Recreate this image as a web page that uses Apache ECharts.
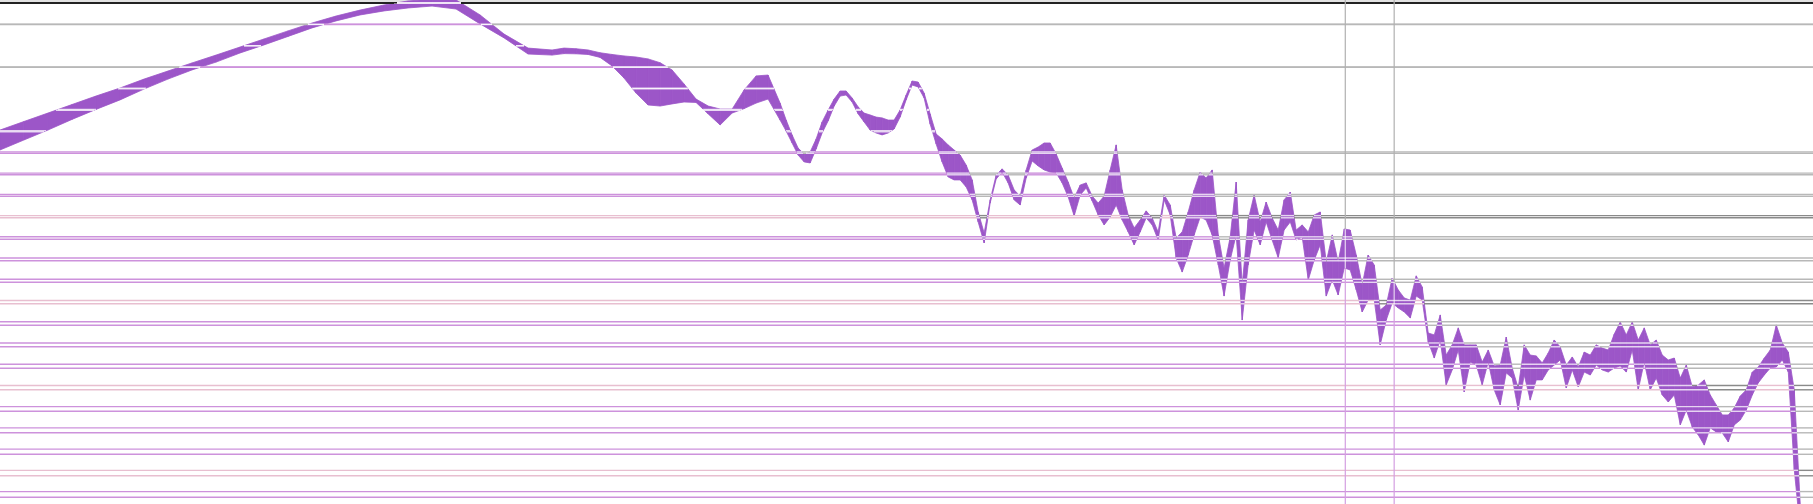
<!DOCTYPE html>
<html>
<head>
<meta charset="utf-8">
<title>Frequency response</title>
<script src="https://cdn.jsdelivr.net/npm/echarts@6.0.0/dist/echarts.min.js"></script>
<style>
  html, body { margin: 0; padding: 0; background: #fff; }
  #chart { width: 1813px; height: 504px; }
</style>
</head>
<body>
<div id="chart"></div>
<script>
// sample frequencies (Hz)
const freqs = [10, 10.96, 12.02, 13.18, 14.45, 15.85, 17.38, 19.05, 20.89, 22.91, 25.12, 27.54, 30.2, 33.11, 36.31, 39.81, 43.65, 47.86, 52.48, 57.54, 63.1, 69.18, 75.86, 83.18,
  87.1, 91.2, 95.5, 100, 104.7, 109.6, 114.8, 120.2, 125.9, 131.8, 138, 144.5, 151.4, 158.5, 166, 173.8, 182, 190.5, 199.5,
  204.2, 208.9, 213.8, 218.8, 223.9, 229.1, 234.4, 239.9, 245.5, 251.2, 257, 263, 269.2, 275.4, 281.8, 288.4, 295.1, 302, 309, 316.2,
  323.6, 331.1, 338.8, 346.7, 354.8, 363.1, 371.5, 380.2, 389, 398.1, 407.4, 416.9, 426.6, 436.5, 446.7, 457.1, 467.7, 478.6, 489.8, 501.2,
  512.9, 524.8, 537, 549.5, 562.3, 575.4, 588.8, 602.6, 616.6, 631, 645.7, 660.7, 676.1, 691.8, 707.9, 724.4, 741.3, 758.6, 776.2, 794.3,
  812.8, 831.8, 851.1, 871, 891.3, 912, 933.3, 955, 977.2,
  1000, 1023, 1047, 1072, 1096, 1122, 1148, 1175, 1202, 1230, 1259, 1288, 1318, 1349, 1380, 1413, 1445, 1479, 1514, 1549,
  1585, 1622, 1660, 1698, 1738, 1778, 1820, 1862, 1905, 1950, 1995, 2042, 2089, 2138, 2188, 2239, 2291, 2344, 2399, 2455,
  2512, 2570, 2630, 2692, 2754, 2818, 2884, 2951, 3020, 3090, 3162, 3236, 3311, 3388, 3467, 3548, 3631, 3715, 3802, 3890,
  3981, 4074, 4169, 4266, 4365, 4467, 4571, 4677, 4786, 4898, 5012, 5129, 5248, 5370, 5495, 5623, 5754, 5888, 6026, 6166,
  6310, 6457, 6607, 6761, 6918, 7079, 7244, 7413, 7586, 7762, 7943, 8128, 8318, 8511, 8710, 8913, 9120, 9333, 9550, 9772, 10000];

// upper edge of the response band (dB)
const upper = [-5.97, -5.57, -5.17, -4.77, -4.37, -3.99, -3.57, -3.19, -2.81, -2.44, -2.06, -1.68, -1.30, -0.93, -0.60, -0.32, -0.08, 0.11, 0.20, 0.16, -0.55, -1.45, -2.11, -2.20,
  -2.11, -2.14, -2.20, -2.33, -2.41, -2.48, -2.53, -2.62, -2.80, -3.14, -3.80, -4.51, -4.84, -4.98, -4.98, -4.08, -3.42, -3.38, -4.70,
  -5.50, -6.20, -6.82, -7.10, -7.00, -6.39, -5.59, -5.03, -4.51, -4.13,
  -4.13, -4.46, -4.88, -5.17, -5.26, -5.36, -5.40, -5.50, -5.50, -5.03,
  -4.32, -3.66, -3.71, -4.23, -5.21, -6.16, -6.39, -6.67, -6.91, -7.15,
  -7.62, -8.32, -9.83, -10.82, -9.26, -8.09, -7.80, -8.09, -8.79, -9.08,
  -7.85, -6.91, -6.77, -6.58, -6.58, -7.10, -7.76, -8.42, -9.17, -8.56,
  -8.46, -9.08, -9.41, -9.08, -7.85, -6.67, -8.79, -9.97, -10.58, -10.21,
  -9.78, -10.11, -10.77, -9.03, -9.50, -11.05, -10.77, -9.83, -8.79,
  -7.95, -8.23, -7.85, -10.91, -12.47, -11.01, -8.42, -13.27, -10.21, -9.03,
  -10.30, -9.36, -10.11, -10.68, -9.26, -8.89, -10.68, -10.44, -10.77, -9.97,
  -9.83, -12.19, -10.91, -12.19, -10.63, -10.68, -11.86, -13.27, -11.86, -12.33,
  -14.45, -14.21, -12.94, -13.50, -13.88, -13.98, -12.84, -13.36, -15.53, -15.62,
  -14.68, -16.57, -16.09, -15.29, -16.09, -16.09, -16.09, -16.90, -16.33, -17.08,
  -17.04, -15.72, -17.18, -18.12, -16.09, -16.57, -16.61, -16.94, -16.47, -15.86,
  -16.19, -17.04, -16.66, -17.13, -16.43, -16.57, -16.09, -16.24, -16.33, -15.58,
  -15.01, -15.62, -15.01, -15.86, -15.29, -16.09, -15.86, -16.57, -16.80, -16.71,
  -17.65, -17.04, -18.07, -17.98, -17.74, -18.45, -18.92, -19.39, -19.39, -19.06,
  -18.50, -18.21, -17.37, -17.13, -16.71, -16.33, -15.15, -16.00, -16.43, -18.21,
  -23.63];

// lower edge of the response band (dB)
const lower = [-6.91, -6.44, -5.97, -5.47, -5.00, -4.55, -4.04, -3.57, -3.14, -2.77, -2.34, -1.96, -1.56, -1.16, -0.83, -0.55, -0.36, -0.22, -0.13, -0.27, -0.97, -1.63, -2.39, -2.44,
  -2.37, -2.38, -2.41, -2.55, -2.95, -3.52, -4.23, -4.79, -4.84, -4.74, -4.65, -4.67, -5.21, -5.73, -5.17, -4.96, -4.70, -4.51, -5.50,
  -6.02, -6.58, -7.15, -7.47, -7.52, -6.86, -6.11, -5.54, -4.84, -4.37,
  -4.32, -4.65, -5.21, -5.59, -5.97, -6.11, -6.20, -6.11, -5.92, -5.36,
  -4.55, -3.85, -3.94, -4.46, -5.69, -6.63, -7.47, -8.18, -8.32, -8.32,
  -8.65, -9.26, -10.30, -11.29, -9.41, -8.28, -7.95, -8.46, -9.26, -9.50,
  -8.23, -7.43, -7.66, -7.85, -7.95, -7.99, -8.46, -9.12, -10.02, -9.03,
  -8.70, -9.31, -9.97, -10.44, -10.07, -9.50, -10.21, -10.77, -11.38, -10.77,
  -10.11, -10.44, -11.15, -9.26, -9.97, -12.00, -12.66, -11.86, -10.91,
  -10.07, -10.21, -10.91, -12.33, -13.79, -12.09, -10.91, -14.92, -12.33, -10.68,
  -11.38, -10.30, -11.15, -11.99, -10.68, -10.30, -11.15, -11.01, -13.03, -12.09,
  -11.38, -13.79, -13.03, -13.74, -12.47, -12.56, -13.50, -14.54, -13.98, -13.98,
  -16.09, -14.92, -14.12, -14.35, -14.54, -14.82, -13.79, -13.98, -15.95, -16.71,
  -15.86, -17.98, -17.27, -16.33, -18.31, -16.90, -17.04, -17.98, -16.90, -18.21,
  -18.92, -17.41, -17.65, -19.16, -17.51, -18.69, -17.74, -17.74, -17.27, -17.04,
  -16.80, -18.12, -17.27, -18.07, -17.37, -17.51, -17.04, -17.27, -17.37, -17.18,
  -17.08, -17.37, -16.33, -18.21, -16.90, -18.21, -17.65, -18.45, -18.78, -18.45,
  -19.86, -19.16, -19.96, -20.33, -20.81, -20.00, -20.19, -20.24, -20.66, -19.86,
  -19.63, -19.16, -18.45, -17.88, -17.51, -17.18, -17.13, -16.80, -17.37, -21.98,
  -24.81];

// horizontal grid levels (dB), two slightly different grids overlaid
const gridLevels = [0, -1, -2, -3, -4, -5, -6, -7, -8, -9, -10, -11, -12, -13, -14, -15, -16, -17, -18, -19, -20, -21, -22, -23];
const hiddenLevels = [-2, -4, -5, -6];
const accentLevels = [-10, -14, -18, -22];
// vertical marker lines (Hz)
const markerFreqs = [1745, 2105];

const FREQ_MIN = 10;
const FREQ_MAX = 10500;
const BAND_COLOR = '#9c56c8';

const chart = echarts.init(document.getElementById('chart'));

// pixel outline of the band, filled while the band series renders
let bandPx = [];

function bandAt(px) {
    const n = bandPx.length;
    if (n < 2 || px < bandPx[0].x || px > bandPx[n - 1].x) return null;
    let a = 0, b = n - 1;
    while (b - a > 1) {
        const m = (a + b) >> 1;
        if (bandPx[m].x <= px) a = m; else b = m;
    }
    const p = bandPx[a], q = bandPx[b];
    const t = (px - p.x) / ((q.x - p.x) || 1);
    return { hi: p.hi + (q.hi - p.hi) * t, lo: p.lo + (q.lo - p.lo) * t };
}

function classify(px, py) {
    const b = bandAt(px);
    if (!b || py < b.hi) return 'above';
    if (py > b.lo) return 'below';
    return 'inside';
}

function lineColor(cls, level) {
    if (cls === 'inside') return 'rgba(255,255,255,0.75)';
    if (hiddenLevels.indexOf(level) >= 0) return null;
    if (level === 0) return cls === 'above' ? '#222222' : '#bf86d2';
    if (accentLevels.indexOf(level) >= 0) return cls === 'above' ? '#8a8a8a' : '#e8bfd0';
    return cls === 'above' ? '#b8b8b8' : '#cd92dc';
}

function renderBand(params, api) {
    const i = params.dataIndex;
    const hi0 = api.coord([freqs[i], upper[i]]);
    const lo0 = api.coord([freqs[i], lower[i]]);
    bandPx[i] = { x: hi0[0], hi: hi0[1], lo: lo0[1] };
    if (i >= freqs.length - 1) return null;
    const hi1 = api.coord([freqs[i + 1], upper[i + 1]]);
    const lo1 = api.coord([freqs[i + 1], lower[i + 1]]);
    return {
        type: 'polygon',
        shape: { points: [hi0, hi1, lo1, lo0] },
        style: { fill: BAND_COLOR, stroke: BAND_COLOR, lineWidth: 0.8 }
    };
}

function renderGridLine(params, api) {
    const level = api.value(1);
    const y = api.coord([FREQ_MIN, level])[1];
    const x0 = params.coordSys.x;
    const x1 = x0 + params.coordSys.width;
    const children = [];
    let start = x0;
    let cls = classify(x0 + 0.5, y);
    for (let px = x0 + 1; px <= x1; px++) {
        const c = px < x1 ? classify(px + 0.5, y) : null;
        if (c !== cls) {
            const color = lineColor(cls, level);
            if (color) {
                children.push({
                    type: 'line',
                    shape: { x1: start, y1: y, x2: px, y2: y },
                    style: { stroke: color, lineWidth: 1.4 }
                });
            }
            start = px;
            cls = c;
        }
    }
    return { type: 'group', children: children };
}

function renderMarker(params, api) {
    const x = api.coord([api.value(0), 0])[0];
    const top = params.coordSys.y;
    const bottom = top + params.coordSys.height;
    const b = bandAt(x) || { hi: bottom, lo: bottom };
    const hi = Math.max(top, Math.min(bottom, b.hi));
    const lo = Math.max(top, Math.min(bottom, b.lo));
    const seg = (y1, y2, color) => ({
        type: 'line',
        shape: { x1: x, y1: y1, x2: x, y2: y2 },
        style: { stroke: color, lineWidth: 1.2 }
    });
    return {
        type: 'group',
        children: [
            seg(top, hi, '#b0b0b0'),
            seg(hi, lo, 'rgba(255,255,255,0.75)'),
            seg(lo, bottom, '#d49fe1')
        ]
    };
}

const option = {
    backgroundColor: '#fff',
    animation: false,
    grid: { left: 0, right: 0, top: 0, bottom: 0 },
    graphic: [{
        type: 'rect',
        left: 0,
        top: 0,
        z: 0,
        shape: { width: 1813, height: 3 },
        style: { fill: '#e2e2e2' }
    }],
    xAxis: {
        type: 'log',
        logBase: 10,
        min: FREQ_MIN,
        max: FREQ_MAX,
        show: false
    },
    yAxis: [
        { type: 'value', min: -23.585, max: 0.155, show: false },
        { type: 'value', min: -23.312, max: 0.130, show: false }
    ],
    series: [
        {
            name: 'band',
            type: 'custom',
            clip: true,
            z: 2,
            renderItem: renderBand,
            encode: { x: 0, y: [1, 2] },
            data: freqs.map((f, i) => [f, upper[i], lower[i]])
        },
        {
            name: 'grid A',
            type: 'custom',
            z: 3,
            yAxisIndex: 0,
            renderItem: renderGridLine,
            encode: { x: 0, y: 1 },
            data: gridLevels.map(v => [FREQ_MIN, v])
        },
        {
            name: 'grid B',
            type: 'custom',
            z: 3,
            yAxisIndex: 1,
            renderItem: renderGridLine,
            encode: { x: 0, y: 1 },
            data: gridLevels.map(v => [FREQ_MIN, v])
        },
        {
            name: 'markers',
            type: 'custom',
            z: 3,
            renderItem: renderMarker,
            encode: { x: 0, y: 1 },
            data: markerFreqs.map(f => [f, 0])
        }
    ]
};

chart.setOption(option);

window.addEventListener('resize', function () {
    chart.resize();
});
</script>
</body>
</html>
